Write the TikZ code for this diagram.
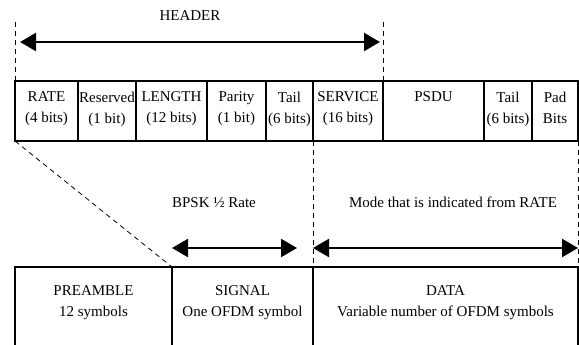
\documentclass[tikz,border=0pt]{standalone}
\usepackage{fontspec}
\setmainfont{Liberation Serif}
\usetikzlibrary{positioning,arrows.meta}

\tikzset{
  field/.style={draw, line width=1.5pt, minimum height=60pt, inner sep=0pt, outer sep=0pt},
  blockbox/.style={draw, line width=1.5pt, minimum height=90pt, inner sep=0pt, outer sep=0pt},
  lbl/.style={align=center, inner sep=0pt, font=\fontsize{15}{21}\selectfont},
  fieldtext/.style={lbl, anchor=north, yshift=-10.5pt},
  blocktext/.style={lbl, anchor=north, yshift=-18pt},
  guide/.style={line width=0.8pt, dash pattern=on 5pt off 4pt},
  dimarrow/.style={{Triangle[length=16pt,width=18pt]}-{Triangle[length=16pt,width=18pt]}, line width=2.2pt},
}

\begin{document}
\begin{tikzpicture}[x=1pt, y=-1pt]
  \useasboundingbox (0,0) rectangle (579,345);
  \clip (0,0) rectangle (579,345);

  % top row: the fields
  \node[field, minimum width=63pt, anchor=north west] (rate) at (15,81) {};
  \node[field, minimum width=58pt, right=0pt of rate] (reserved) {};
  \node[field, minimum width=71pt, right=0pt of reserved] (length) {};
  \node[field, minimum width=59pt, right=0pt of length] (parity) {};
  \node[field, minimum width=47pt, right=0pt of parity] (tail) {};
  \node[field, minimum width=70pt, right=0pt of tail] (service) {};
  \node[field, minimum width=101pt, right=0pt of service] (psdu) {};
  \node[field, minimum width=48pt, right=0pt of psdu] (tail2) {};
  \node[field, minimum width=46pt, right=0pt of tail2] (pad) {};

  \node[fieldtext] (rate-t) at (rate.north) {RATE\\(4 bits)};
  \node[fieldtext] (reserved-t) at (reserved.north) {Reserved\\(1 bit)};
  \node[fieldtext] (length-t) at (length.north) {LENGTH\\(12 bits)};
  \node[fieldtext] (parity-t) at (parity.north) {Parity\\(1 bit)};
  \node[fieldtext] (tail-t) at (tail.north) {Tail\\(6 bits)};
  \node[fieldtext] (service-t) at (service.north) {SERVICE\\(16 bits)};
  \node[fieldtext] (psdu-t) at (psdu.north) {PSDU};
  \node[fieldtext] (tail2-t) at (tail2.north) {Tail\\(6 bits)};
  \node[fieldtext] (pad-t) at (pad.north) {Pad\\Bits};

  % bottom row: the parts of the frame
  \node[blockbox, minimum width=157pt, anchor=north west] (preamble) at (15,267) {};
  \node[blockbox, minimum width=141pt, right=0pt of preamble] (signal) {};
  \node[blockbox, minimum width=265pt, right=0pt of signal] (data) {};

  \node[blocktext] (preamble-t) at (preamble.north) {PREAMBLE\\12 symbols};
  \node[blocktext] (signal-t) at (signal.north) {SIGNAL\\One OFDM symbol};
  \node[blocktext] (data-t) at (data.north) {DATA\\Variable number of OFDM symbols};

  % header span
  \node[lbl, anchor=base] (header) at (190,20.7) {HEADER};
  \coordinate (hd-l) at (15,22);
  \coordinate (hd-r) at (383,22);
  \draw[guide] (hd-l) -- (rate.north west);
  \draw[guide] (hd-r) -- (service.north east);
  \coordinate (hda-l) at (20,42);
  \coordinate (hda-r) at (380,42);
  \draw[dimarrow] (hda-l) -- (hda-r);

  % guides down to the frame
  \draw[guide] (rate.south west) -- (signal.north west);
  \draw[guide] (service.south west) -- (data.north west);
  \draw[guide] (pad.south east) -- (data.north east);

  % rates
  \node[lbl, anchor=base] (bpsk) at (214,207.5) {BPSK ½ Rate};
  \node[lbl, anchor=base] (mode) at (453,207.5) {Mode that is indicated from RATE};
  \coordinate (bpsk-l) at (172,248);
  \coordinate (bpsk-r) at (297,248);
  \draw[dimarrow] (bpsk-l) -- (bpsk-r);
  \coordinate (mode-l) at (313,248);
  \coordinate (mode-r) at (578,248);
  \draw[dimarrow] (mode-l) -- (mode-r);
\end{tikzpicture}
\end{document}
